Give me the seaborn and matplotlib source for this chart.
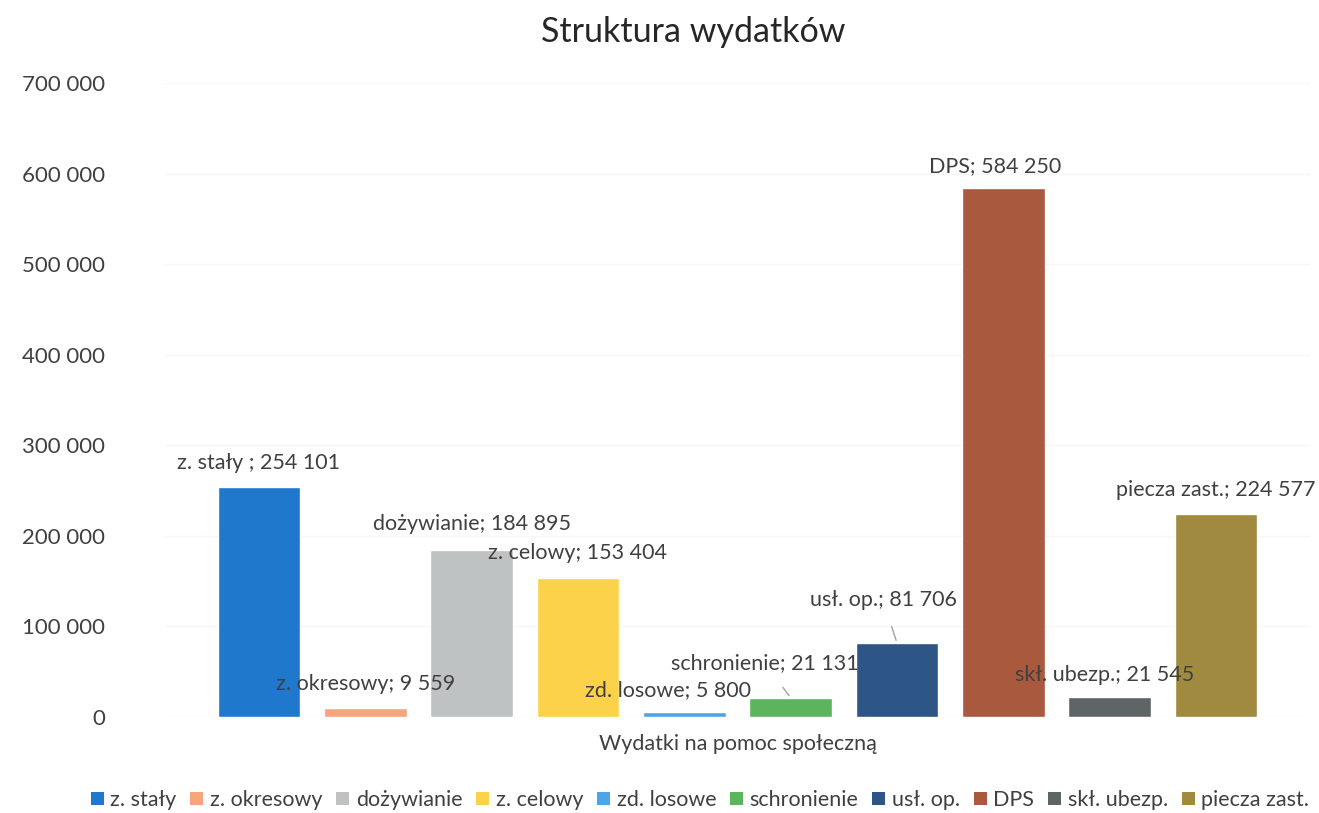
import matplotlib
matplotlib.use('Agg')
import matplotlib.pyplot as plt
from matplotlib.patches import Patch
from matplotlib.ticker import FuncFormatter
import seaborn as sns
import pandas as pd

# dane: struktura wydatków na pomoc społeczną
kategorie = ['z. stały', 'z. okresowy', 'dożywianie', 'z. celowy', 'zd. losowe',
             'schronienie', 'usł. op.', 'DPS', 'skł. ubezp.', 'piecza zast.']
wartosci = [254101, 9559, 184895, 153404, 5800, 21131, 81706, 584250, 21545, 224577]
etykiety = ['z. stały ; 254 101', 'z. okresowy; 9 559', 'dożywianie; 184 895',
            'z. celowy; 153 404', 'zd. losowe; 5 800', 'schronienie; 21 131',
            'usł. op.; 81 706', 'DPS; 584 250', 'skł. ubezp.; 21 545',
            'piecza zast.; 224 577']
kolory = ['#1f78cc', '#f6a57c', '#bec2c3', '#fcd24a', '#4da5e8',
          '#5cb55d', '#2d5686', '#a9593d', '#5f6466', '#9f8a3f']

# przesunięcia etykiet (piksele) względem wierzchołka słupka
przesuniecia = [(0, 24), (0, 24), (0, 26), (0, 25), (-16, 22),
                (-26, 35), (-14, 43), (-8, 22), (-5, 22), (0, 24)]
z_linia = [False, False, False, False, False, True, True, False, False, False]

df = pd.DataFrame({'kategoria': kategorie, 'wartosc': wartosci})

sns.set_theme(style='white')
plt.rcParams['font.family'] = ['Lato', 'DejaVu Sans']
szary = '#404040'

fig = plt.figure(figsize=(13.19, 8.13), dpi=100)
ax = fig.add_axes([165 / 1319, 96 / 813, 1145 / 1319, 634 / 813])

sns.barplot(data=df, x='kategoria', y='wartosc', hue='kategoria', palette=kolory,
            width=0.78, legend=False, ax=ax, saturation=1)

ax.set_ylim(0, 700000)
ax.set_xlim(-0.884, 9.884)
ax.set_yticks(range(0, 700001, 100000))
ax.yaxis.set_major_formatter(FuncFormatter(lambda v, p: f'{int(v):,}'.replace(',', ' ')))
ax.tick_params(axis='y', labelsize=16, colors=szary, pad=43, length=0)
ax.set_xticks([])
ax.set_xlabel('Wydatki na pomoc społeczną', fontsize=15.5, color=szary, labelpad=12)
ax.set_ylabel('')
ax.grid(axis='y', color='#f6f6f6', linewidth=1)
ax.set_axisbelow(True)
for s in ax.spines.values():
    s.set_visible(False)

for i, (v, txt, (dx, dy), linia) in enumerate(zip(wartosci, etykiety, przesuniecia, z_linia)):
    ax.annotate(txt, xy=(i, v), xytext=(dx, dy), textcoords='offset pixels',
                ha='center', va='center', fontsize=15.5, color=szary,
                arrowprops=dict(arrowstyle='-', color='#a0a0a0', lw=1,
                                shrinkA=10, shrinkB=2) if linia else None)

fig.text(693 / 1319, 1 - 32 / 813, 'Struktura wydatków', ha='center', va='center',
         fontsize=24.5, color='#262626')

uchwyty = [Patch(facecolor=c, edgecolor='none') for c in kolory]
fig.legend(uchwyty, kategorie, loc='center', bbox_to_anchor=(700 / 1319, 1 - 800 / 813),
           ncol=10, frameon=False, fontsize=15.5, handlelength=0.6, handleheight=0.6,
           handletextpad=0.3, columnspacing=0.65, labelcolor=szary)

fig.savefig('out.png', dpi=100, facecolor='white')
